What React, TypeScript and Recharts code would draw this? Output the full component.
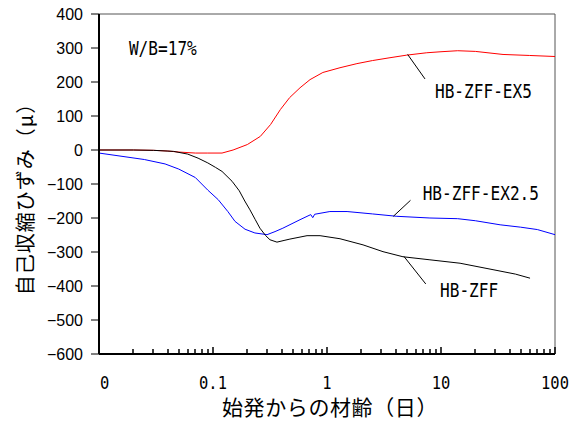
import React from 'react';
import { LineChart, Line, XAxis, YAxis, ReferenceLine, ReferenceDot } from 'recharts';

// HB-ZFF-EX5 (red)
const ex5Days = [0.01, 0.02, 0.03, 0.04, 0.05, 0.07, 0.09, 0.12, 0.15, 0.2, 0.26, 0.32, 0.39, 0.47, 0.58, 0.71, 0.92, 1.3, 1.83, 2.5, 3.5, 5.0, 7.5, 10, 14, 20, 35, 60, 100];
const ex5Strain = [0, 0, -1, -3, -6, -9, -9, -9, 0, 16, 40, 75, 119, 154, 183, 207, 228, 242, 254, 263, 271, 279, 286, 289, 292, 290, 281, 278, 275];

// HB-ZFF-EX2.5 (blue)
const ex25Days = [0.01, 0.025, 0.038, 0.05, 0.07, 0.09, 0.111, 0.135, 0.156, 0.191, 0.233, 0.298, 0.35, 0.41, 0.58, 0.72, 0.75, 0.78, 1.06, 1.5, 2.5, 4.1, 8, 14, 20, 33, 50, 70, 100];
const ex25Strain = [-9, -28, -41, -56, -81, -118, -146, -181, -210, -233, -244, -249, -240, -230, -205, -190, -199, -189, -181, -181, -188, -195, -200, -202, -208, -220, -227, -234, -249];

// HB-ZFF (black)
const zffDays = [0.01, 0.02, 0.03, 0.045, 0.06, 0.074, 0.09, 0.105, 0.12, 0.147, 0.17, 0.19, 0.211, 0.235, 0.258, 0.29, 0.316, 0.364, 0.42, 0.473, 0.668, 0.869, 1.3, 2.07, 3.1, 4.64, 8, 14.7, 28.6, 45, 60.4];
const zffStrain = [0, 0, -1, -4, -12, -24, -38, -51, -63, -92, -120, -150, -176, -205, -230, -252, -264, -271, -266, -262, -252, -252, -261, -279, -299, -314, -323, -333, -352, -365, -377];

const yTicks = [-600, -500, -400, -300, -200, -100, 0, 100, 200, 300, 400];
const majorTicks = [0.01, 0.1, 1, 10, 100];
const majorLabels = ['0', '0.1', '1', '10', '100'];
const minorTicks = [
  0.02, 0.03, 0.04, 0.05, 0.06, 0.07, 0.08, 0.09,
  0.2, 0.3, 0.4, 0.5, 0.6, 0.7, 0.8, 0.9,
  2, 3, 4, 5, 6, 7, 8, 9,
  20, 30, 40, 50, 60, 70, 80, 90,
];
const allXTicks = [...majorTicks, ...minorTicks].sort((a, b) => a - b);

const Y_MIN = -600;
const Y_MAX = 400;

const toData = (days: number[], vals: number[]) => days.map((d, i) => ({ x: d, y: vals[i] }));
const ex5Data = toData(ex5Days, ex5Strain);
const ex25Data = toData(ex25Days, ex25Strain);
const zffData = toData(zffDays, zffStrain);

const MONO = '"DejaVu Sans Mono", "Liberation Mono", monospace';
const CJK = '"Noto Sans CJK JP", "Noto Sans", sans-serif';

const PLOT_BOTTOM = 354;

const XTick = (props: any) => {
  const { x, payload } = props;
  const v = payload.value;
  const idx = majorTicks.indexOf(v);
  const label = idx >= 0 ? majorLabels[idx] : null;
  const len = idx >= 0 ? 7 : 5;
  const px = Math.round(x);
  return (
    <g>
      <rect x={px - 0.75} y={PLOT_BOTTOM - len} width={1.5} height={len} fill="#000" />
      {label !== null && (
        <text
          x={idx === 0 ? x + 1 : x}
          y={PLOT_BOTTOM + 35}
          textAnchor={idx === 0 ? 'start' : 'middle'}
          fontFamily={MONO}
          fontSize={18}
          fill="#000"
          textLength={label.length * 9.3}
          lengthAdjust="spacingAndGlyphs"
        >
          {label}
        </text>
      )}
    </g>
  );
};

const monoLabel = (txt: string) => (p: any) => (
  <text
    x={p.cx}
    y={p.cy}
    fontFamily={MONO}
    fontSize={19}
    fill="#000"
    textLength={txt.length * 9.7}
    lengthAdjust="spacingAndGlyphs"
  >
    {txt}
  </text>
);

export default function App() {
  return (
    <div style={{ position: 'absolute', left: 0, top: 0, background: '#fff' }}>
      <LineChart width={579} height={421} margin={{ top: 14, right: 24, bottom: 37, left: 0 }}>
        <XAxis
          type="number"
          dataKey="x"
          scale="log"
          domain={[0.01, 100]}
          allowDataOverflow
          ticks={allXTicks}
          interval={0}
          minTickGap={0}
          tickSize={0}
          tickMargin={10}
          tickLine={false}
          tick={<XTick />}
          axisLine={{ stroke: '#000', strokeWidth: 2 }}
          height={30}
          label={{
            content: (p: any) => (
              <text
                x={p.viewBox.x + p.viewBox.width / 2 + 3}
                y={415}
                textAnchor="middle"
                fontFamily={CJK}
                fontSize={21}
                letterSpacing={0.6}
                fill="#000"
              >
                始発からの材齢（日）
              </text>
            ),
          }}
        />
        <YAxis
          type="number"
          dataKey="y"
          domain={[Y_MIN, Y_MAX]}
          ticks={yTicks}
          interval={0}
          width={99}
          tickSize={8}
          tickMargin={8}
          tickLine={{ stroke: '#000' }}
          axisLine={{ stroke: '#000', strokeWidth: 2 }}
          tickFormatter={(v: number) => String(v).replace('-', '\u2212')}
          tick={{ fill: '#000', fontSize: 16, fontFamily: '"Liberation Sans", Arial, sans-serif' }}
          label={{
            content: (p: any) => (
              <text
                transform={`translate(33, ${p.viewBox.y + p.viewBox.height / 2 + 10}) rotate(-90)`}
                textAnchor="middle"
                fontFamily={CJK}
                fontSize={20}
                letterSpacing={1}
                fill="#000"
              >
                自己収縮ひずみ（μ）
              </text>
            ),
          }}
        />
        <ReferenceLine y={Y_MAX} stroke="#555" strokeWidth={1} />
        <ReferenceLine x={100} stroke="#555" strokeWidth={1} />

        <Line data={ex5Data} dataKey="y" stroke="#ff0000" strokeWidth={1} dot={false} isAnimationActive={false} />
        <Line data={ex25Data} dataKey="y" stroke="#0000ff" strokeWidth={1} dot={false} isAnimationActive={false} />
        <Line data={zffData} dataKey="y" stroke="#000000" strokeWidth={1} dot={false} isAnimationActive={false} />

        <ReferenceLine segment={[{ x: 5.1, y: 281 }, { x: 7.24, y: 209 }]} stroke="#000" strokeWidth={1} />
        <ReferenceLine segment={[{ x: 3.82, y: -195 }, { x: 5.4, y: -148 }]} stroke="#000" strokeWidth={1} />
        <ReferenceLine segment={[{ x: 4.73, y: -313 }, { x: 7.35, y: -394 }]} stroke="#000" strokeWidth={1} />

        <ReferenceDot x={8.85} y={154} r={0} shape={monoLabel('HB-ZFF-EX5')} />
        <ReferenceDot x={6.9} y={-146} r={0} shape={monoLabel('HB-ZFF-EX2.5')} />
        <ReferenceDot x={9.8} y={-432} r={0} shape={monoLabel('HB-ZFF')} />
        <ReferenceDot x={0.0183} y={278} r={0} shape={monoLabel('W/B=17%')} />
      </LineChart>
    </div>
  );
}
